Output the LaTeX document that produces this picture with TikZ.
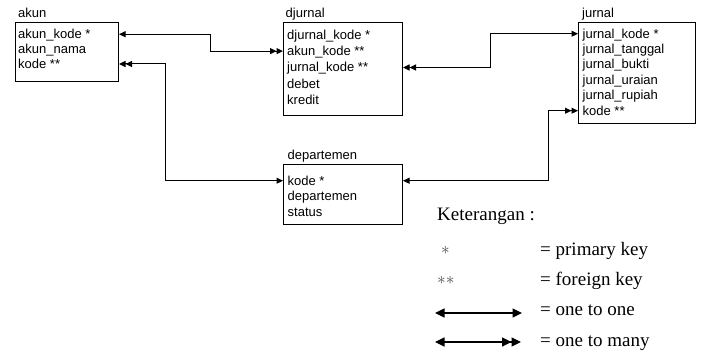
\documentclass[tikz,border=0pt]{standalone}
\usepackage{fontspec}
\setmainfont{Liberation Serif}
\setsansfont{Liberation Sans}
\usetikzlibrary{positioning,arrows.meta}

\begin{document}
\begin{tikzpicture}[
        x=1pt, y=-1pt,
        >={Triangle[length=6.5pt,width=6pt,sep=0pt]},
        table_box/.style={rectangle, draw=black, line width=1pt, inner sep=0pt, anchor=north west},
        table_name/.style={font=\sffamily\fontsize{13}{15}\selectfont, inner sep=0pt, text height=10pt, text depth=1pt},
        field/.style={font=\sffamily\fontsize{13}{15}\selectfont, inner sep=0pt, text height=10pt, text depth=1pt},
        relation/.style={draw=black, line width=1pt, <->>},
        legend_text/.style={font=\fontsize{19}{22}\selectfont, inner sep=0pt, anchor=base west},
        legend_sym/.style={font=\fontsize{16}{20}\selectfont, text=black!70, inner sep=0pt, anchor=base west},
        legend_arrow/.style={draw=black, line width=1.2pt, >={Triangle[length=9.5pt,width=9pt,sep=0pt]}},
        ]
            \useasboundingbox (0,0) rectangle (705,353);

            % tables
            \node[table_box, minimum width=103pt, minimum height=59pt]  (akun)        at (15,22)   {};
            \node[table_box, minimum width=119pt, minimum height=93pt]  (djurnal)     at (283,22)  {};
            \node[table_box, minimum width=117pt, minimum height=101pt] (jurnal)      at (578,22)  {};
            \node[table_box, minimum width=119pt, minimum height=60pt]  (departemen)  at (283,164) {};

            % names
            \node[table_name]   (akun_name)        [above right = 3.5pt and 3pt of akun.north west]        {akun};
            \node[table_name]   (djurnal_name)     [above right = 3.5pt and 2.5pt of djurnal.north west]   {djurnal};
            \node[table_name]   (jurnal_name)      [above right = 3.5pt and 4pt of jurnal.north west]      {jurnal};
            \node[table_name]   (departemen_name)  [above right = 3.5pt and 4.5pt of departemen.north west] {departemen};

            % akun
            \node[field]    (akun_1)   [below right = 6.5pt and 3pt of akun.north west]            {akun\_kode *};
            \node[field]    (akun_2)   [below = 3.5pt of akun_1.south west, anchor=north west]     {akun\_nama};
            \node[field]    (akun_3)   [below = 3.5pt of akun_2.south west, anchor=north west]     {kode **};
            % djurnal
            \node[field]    (djurnal_1)  [below right = 7pt and 4pt of djurnal.north west]         {djurnal\_kode *};
            \node[field]    (djurnal_2)  [below = 5pt of djurnal_1.south west, anchor=north west]  {akun\_kode **};
            \node[field]    (djurnal_3)  [below = 5pt of djurnal_2.south west, anchor=north west]  {jurnal\_kode **};
            \node[field]    (djurnal_4)  [below = 5pt of djurnal_3.south west, anchor=north west]  {debet};
            \node[field]    (djurnal_5)  [below = 5pt of djurnal_4.south west, anchor=north west]  {kredit};
            % jurnal
            \node[field]    (jurnal_1)  [below right = 6pt and 4.5pt of jurnal.north west]         {jurnal\_kode *};
            \node[field]    (jurnal_2)  [below = 4pt of jurnal_1.south west, anchor=north west]    {jurnal\_tanggal};
            \node[field]    (jurnal_3)  [below = 4pt of jurnal_2.south west, anchor=north west]    {jurnal\_bukti};
            \node[field]    (jurnal_4)  [below = 4pt of jurnal_3.south west, anchor=north west]    {jurnal\_uraian};
            \node[field]    (jurnal_5)  [below = 4pt of jurnal_4.south west, anchor=north west]    {jurnal\_rupiah};
            \node[field]    (jurnal_6)  [below = 4pt of jurnal_5.south west, anchor=north west]    {kode **};
            % departemen
            \node[field]    (departemen_1)  [below right = 11pt and 4.5pt of departemen.north west]       {kode *};
            \node[field]    (departemen_2)  [below = 4pt of departemen_1.south west, anchor=north west]   {departemen};
            \node[field]    (departemen_3)  [below = 4pt of departemen_2.south west, anchor=north west]   {status};

            % relations
            \coordinate (bend_1) at (210,0);
            \coordinate (bend_2) at (165,0);
            \coordinate (bend_3) at (490,0);
            \coordinate (bend_4) at (548,0);
            \draw[relation] (akun.east |- akun_1) -| (bend_1 |- djurnal_2) -- (djurnal.west |- djurnal_2);
            \draw[relation] (departemen.west |- departemen_1) -| (bend_2 |- akun_3) -- (akun.east |- akun_3);
            \draw[relation] (jurnal.west |- jurnal_1) -| (bend_3 |- djurnal_3) -- (djurnal.east |- djurnal_3);
            \draw[relation] (departemen.east |- departemen_1) -| (bend_4 |- jurnal_6) -- (jurnal.west |- jurnal_6);

            % keterangan
            \node[legend_text]  (keterangan)  at (437,220)  {Keterangan :};
            \node[legend_sym]   (pk_sym)      at (441,254)  {$\ast$};
            \node[legend_text]  (pk_text)     at (540,255)  {= primary key};
            \node[legend_sym]   (fk_sym)      at (437,284)  {$\ast\ast$};
            \node[legend_text]  (fk_text)     at (540,285)  {= foreign key};
            \node[legend_text]  (oo_text)     at (540,315)  {= one to one};
            \node[legend_text]  (om_text)     at (540,346)  {= one to many};
            \coordinate (oo_left)   at (435,313);
            \coordinate (oo_right)  at (522,313);
            \coordinate (om_left)   at (435,342);
            \coordinate (om_right)  at (521,342);
            \draw[legend_arrow, <->]  (oo_left) -- (oo_right);
            \draw[legend_arrow, <->>] (om_left) -- (om_right);

        \end{tikzpicture}
\end{document}
